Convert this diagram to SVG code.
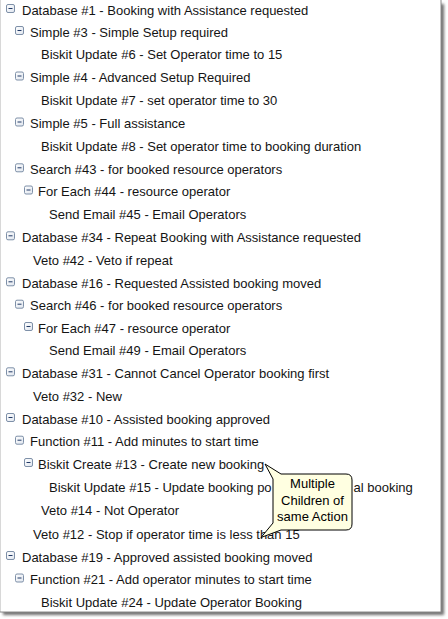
<svg xmlns="http://www.w3.org/2000/svg" xmlns:xlink="http://www.w3.org/1999/xlink" width="448" height="619" viewBox="0 0 448 619">
<defs>
<style>
text{font-family:"Liberation Sans",Arial,sans-serif;font-size:13px;fill:#141414}
.co{text-anchor:middle;fill:#000}
</style>
<linearGradient id="ig" x1="0" y1="0" x2="1" y2="1">
<stop offset="0" stop-color="#ffffff"/><stop offset="1" stop-color="#dfe5ee"/>
</linearGradient>
<g id="ico">
<rect x="0.5" y="0.5" width="8" height="8" rx="1.5" fill="url(#ig)" stroke="#7e90a8"/>
<line x1="2.5" y1="4.5" x2="6.5" y2="4.5" stroke="#223a66" stroke-width="1"/>
</g>
<filter id="sh" x="-5%" y="-5%" width="110%" height="110%"><feGaussianBlur stdDeviation="1.6"/></filter>
</defs>
<rect x="0" y="0" width="448" height="619" fill="#fff"/>
<rect x="3" y="4" width="441" height="611" fill="#6e6e6e" filter="url(#sh)"/>
<rect x="0" y="0" width="441" height="612" fill="#fff"/>
<line x1="0.5" y1="0" x2="0.5" y2="612" stroke="#d8d8d8"/>
<line x1="441" y1="0" x2="441" y2="612.5" stroke="#8a8a8a"/>
<line x1="0" y1="612" x2="441.5" y2="612" stroke="#8a8a8a"/>

<g id="n0"><use xlink:href="#ico" x="6" y="4"/><text x="22" y="14.5">Database #1 - Booking with Assistance requested</text></g>
<g id="n1"><use xlink:href="#ico" x="15" y="26"/><text x="30" y="36.5">Simple #3 - Simple Setup required</text></g>
<g id="n2"><text x="41" y="59">Biskit Update #6 - Set Operator time to 15</text></g>
<g id="n3"><use xlink:href="#ico" x="15" y="71.5"/><text x="30" y="82">Simple #4 - Advanced Setup Required</text></g>
<g id="n4"><text x="41" y="104.5">Biskit Update #7 - set operator time to 30</text></g>
<g id="n5"><use xlink:href="#ico" x="15" y="117.5"/><text x="30" y="128">Simple #5 - Full assistance</text></g>
<g id="n6"><text x="41" y="151">Biskit Update #8 - Set operator time to booking duration</text></g>
<g id="n7"><use xlink:href="#ico" x="15" y="163.3"/><text x="30" y="173.8">Search #43 - for booked resource operators</text></g>
<g id="n8"><use xlink:href="#ico" x="24" y="185.5"/><text x="38" y="196">For Each #44 - resource operator</text></g>
<g id="n9"><text x="49" y="218.8">Send Email #45 - Email Operators</text></g>
<g id="n10"><use xlink:href="#ico" x="6" y="231.3"/><text x="22" y="241.8">Database #34 - Repeat Booking with Assistance requested</text></g>
<g id="n11"><text x="33" y="265">Veto #42 - Veto if repeat</text></g>
<g id="n12"><use xlink:href="#ico" x="6" y="277.3"/><text x="22" y="287.8">Database #16 - Requested Assisted booking moved</text></g>
<g id="n13"><use xlink:href="#ico" x="15" y="299.7"/><text x="30" y="310.2">Search #46 - for booked resource operators</text></g>
<g id="n14"><use xlink:href="#ico" x="24" y="322"/><text x="38" y="332.5">For Each #47 - resource operator</text></g>
<g id="n15"><text x="49" y="355">Send Email #49 - Email Operators</text></g>
<g id="n16"><use xlink:href="#ico" x="6" y="367.3"/><text x="22" y="377.8">Database #31 - Cannot Cancel Operator booking first</text></g>
<g id="n17"><text x="33" y="400.5">Veto #32 - New</text></g>
<g id="n18"><use xlink:href="#ico" x="6" y="413"/><text x="22" y="423.5">Database #10 - Assisted booking approved</text></g>
<g id="n19"><use xlink:href="#ico" x="15" y="435.7"/><text x="30" y="446.2">Function #11 - Add minutes to start time</text></g>
<g id="n20"><use xlink:href="#ico" x="24" y="458"/><text x="38" y="468.5">Biskit Create #13 - Create new booking</text></g>
<g id="n21"><text x="49" y="491.5">Biskit Update #15 - Update booking po</text><text x="353.5" y="491.5">al booking</text></g>
<g id="n22"><text x="41" y="514.5">Veto #14 - Not Operator</text></g>
<g id="n23"><text x="33" y="538.5">Veto #12 - Stop if operator time is less than 15</text></g>
<g id="n24"><use xlink:href="#ico" x="6" y="551"/><text x="22" y="561.5">Database #19 - Approved assisted booking moved</text></g>
<g id="n25"><use xlink:href="#ico" x="15" y="573.5"/><text x="30" y="584">Function #21 - Add operator minutes to start time</text></g>
<g id="n26"><text x="41" y="607">Biskit Update #24 - Update Operator Booking</text></g>

<g id="connectors">
<g id="callout">
<path d="M281,474 L346,474 Q352,474 352,480 L352,524 Q352,530 346,530 L281,530 L261,537.5 L273,523 L273,479 L265,464 Z" fill="#ffffe1" stroke="#000" stroke-width="1" stroke-linejoin="round"/>
<text class="co" x="312.5" y="488">Multiple</text>
<text class="co" x="312.5" y="504.5">Children of</text>
<text class="co" x="312.5" y="521">same Action</text>
</g>
</g>
</svg>
